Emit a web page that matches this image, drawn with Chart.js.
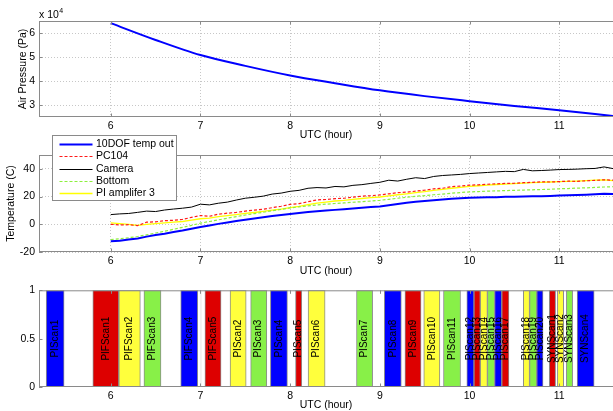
<!DOCTYPE html>
<html>
<head>
<meta charset="utf-8">
<script src="https://cdn.jsdelivr.net/npm/chart.js@4.4.0/dist/chart.umd.min.js"></script>
<style>
  html, body { margin: 0; padding: 0; background: #fff; }
  #wrap { position: relative; width: 613px; height: 411px; overflow: hidden; }
  canvas { position: absolute; left: 0; }
</style>
</head>
<body>
<div id="wrap">
  <canvas id="pressureChart" width="613" height="145" style="top:0px"></canvas>
  <canvas id="tempChart" width="613" height="150" style="top:130px"></canvas>
  <canvas id="scanChart" width="613" height="131" style="top:280px"></canvas>
</div>
<script>
// ---- data ----
const xTicks = [6, 7, 8, 9, 10, 11];

const pressureHours = [6.0, 6.5, 7.0, 7.5, 8.0, 8.5, 9.0, 9.5, 10.0, 10.5, 11.0, 11.6];
const airPressure = [64100, 57100, 50800, 46300, 42300, 39100, 36100, 33700, 31600, 29600, 27800, 25400];
const pressureTicks = [30000, 40000, 50000, 60000];

const hours = [
  6.0, 6.1, 6.2, 6.3, 6.4, 6.5, 6.6, 6.7, 6.8, 6.9,
  7.0, 7.1, 7.2, 7.3, 7.4, 7.5, 7.6, 7.7, 7.8, 7.9,
  8.0, 8.1, 8.2, 8.3, 8.4, 8.5, 8.6, 8.7, 8.8, 8.9,
  9.0, 9.1, 9.2, 9.3, 9.4, 9.5, 9.6, 9.7, 9.8, 9.9,
  10.0, 10.1, 10.2, 10.3, 10.4, 10.5, 10.6, 10.7, 10.8, 10.9,
  11.0, 11.1, 11.2, 11.3, 11.4, 11.5, 11.6
];
const tempOut = [
  -12.3, -11.8, -11.0, -10.2, -8.9, -7.8, -6.8, -5.6, -4.5, -3.2,
  -2.0, -0.8, 0.3, 1.3, 2.3, 3.2, 4.1, 5.0, 5.9, 6.7,
  7.5, 8.2, 8.8, 9.4, 9.9, 10.4, 10.9, 11.4, 11.9, 12.4,
  12.9, 13.8, 14.7, 15.5, 16.2, 16.8, 17.4, 17.9, 18.4, 18.8,
  19.1, 19.3, 19.5, 19.6, 19.8, 19.9, 20.0, 20.2, 20.3, 20.5,
  20.7, 20.9, 21.1, 21.4, 21.7, 22.0, 21.8
];
const pc104 = [
  0.0, -0.5, -0.3, -1.0, 1.5, 1.8, 2.6, 2.9, 3.5, 5.0,
  6.3, 5.8, 7.3, 8.0, 8.6, 9.5, 10.2, 10.8, 12.0, 13.0,
  14.4, 14.9, 16.3, 17.6, 17.9, 18.5, 18.8, 19.6, 20.3, 20.6,
  21.2, 22.0, 22.8, 23.2, 23.9, 24.6, 25.6, 26.0, 27.2, 27.6,
  28.2, 28.5, 28.9, 29.2, 29.5, 29.6, 30.0, 30.3, 30.6, 30.5,
  30.8, 31.1, 31.0, 31.4, 31.7, 32.1, 31.8
];
const camera = [
  7.0, 7.5, 7.8, 8.6, 9.5, 9.2, 10.3, 11.0, 11.6, 12.4,
  14.5, 14.0, 15.2, 16.0, 17.5, 18.8, 19.5, 20.3, 21.8, 22.5,
  23.8, 24.5, 26.0, 26.5, 26.2, 27.3, 27.0, 28.1, 28.6, 29.5,
  30.3, 31.8, 31.2, 32.5, 33.6, 33.0, 34.5, 35.2, 35.6, 36.0,
  36.6, 37.0, 37.4, 37.8, 38.2, 38.0, 39.6, 38.6, 38.8, 39.1,
  39.5, 39.6, 39.8, 40.1, 40.3, 41.4, 40.2
];
const bottom = [
  -11.0, -10.4, -9.7, -8.8, -7.6, -6.3, -5.0, -3.6, -2.2, -0.8,
  0.8, 2.0, 3.2, 4.4, 5.5, 6.7, 7.7, 8.7, 9.8, 10.8,
  11.8, 12.6, 13.3, 14.0, 14.5, 15.0, 15.4, 15.9, 16.3, 16.8,
  17.3, 18.0, 18.8, 19.5, 20.2, 20.7, 21.3, 21.8, 22.4, 22.9,
  23.4, 23.6, 23.9, 24.1, 24.3, 24.5, 24.7, 24.9, 25.1, 25.3,
  25.6, 25.8, 26.1, 26.3, 26.6, 26.9, 27.1
];
const piAmp3 = [
  1.0, 0.5, 0.0, -0.8, 0.0, 0.5, 1.0, 1.5, 2.0, 3.0,
  4.0, 4.5, 5.5, 6.3, 7.0, 7.8, 8.5, 9.3, 10.2, 11.0,
  12.0, 13.0, 14.2, 15.3, 16.0, 16.8, 17.3, 18.0, 18.6, 19.2,
  19.7, 20.5, 21.3, 22.0, 22.8, 23.5, 24.4, 25.2, 26.0, 26.7,
  27.3, 27.8, 28.3, 28.7, 29.0, 29.3, 29.7, 30.0, 30.3, 30.5,
  30.8, 31.0, 31.2, 31.5, 31.8, 32.0, 31.5
];
const tempTicks = [-20, 0, 20, 40];

const scanNames = [
  'PIScan1', 'PIFScan1', 'PIFScan2', 'PIFScan3', 'PIFScan4', '', 'PIFScan5',
  'PIScan2', 'PIScan3', 'PIScan4', 'PIScan5', 'PIScan6', 'PIScan7', 'PIScan8',
  'PIScan9', 'PIScan10', 'PIScan11', 'PIScan12', 'PIScan13', 'PIScan14',
  'PIScan15', 'PIScan16', 'PIScan17', 'PIScan18', 'PIScan19', 'PIScan20',
  'SYNScan1', 'SYNScan2', 'SYNScan3', 'SYNScan4'
];
const scanStart = [
  5.28, 5.80, 6.09, 6.37, 6.78, 6.998, 7.05,
  7.33, 7.56, 7.78, 8.06, 8.20, 8.74, 9.05,
  9.28, 9.49, 9.71, 9.97, 10.05, 10.12,
  10.20, 10.28, 10.36, 10.60, 10.67, 10.75,
  10.89, 10.98, 11.08, 11.20
];
const scanEnd = [
  5.48, 6.09, 6.33, 6.56, 6.97, 7.006, 7.23,
  7.51, 7.74, 7.97, 8.13, 8.39, 8.92, 9.24,
  9.46, 9.67, 9.90, 10.05, 10.12, 10.20,
  10.28, 10.36, 10.44, 10.67, 10.75, 10.82,
  10.96, 11.05, 11.15, 11.39
];
const scanTicks = [0, 0.5, 1];

// ---- styles ----
const BLUE = '#0000ff', RED = '#dd0000', YEL = '#ffff3c', GRN = '#88f048';
const scanFill = [
  BLUE, RED, YEL, GRN, BLUE, '#ffffff', RED,
  YEL, GRN, BLUE, RED, YEL, GRN, BLUE,
  RED, YEL, GRN, BLUE, RED, YEL,
  GRN, BLUE, RED, YEL, GRN, BLUE,
  RED, YEL, GRN, BLUE
];
const AXIS_GRAY = '#8a8a8a';
const GRID_GRAY = 'rgba(0,0,0,0.22)';
const TICK = 3.5;
const X_MIN = 5.2, X_MAX = 11.6;
const FONT = '"Liberation Sans", Arial, Helvetica, sans-serif';

Chart.defaults.font.family = FONT;
Chart.defaults.font.size = 10.5;
Chart.defaults.color = '#000';
Chart.defaults.animation = false;

// box round the plot plus MATLAB style inner ticks
const frame = {
  id: 'frame',
  afterDraw(chart, args, opts) {
    const { ctx, chartArea: a, scales } = chart;
    const ys = scales[opts.yId || 'y'];
    ctx.save();
    ctx.strokeStyle = AXIS_GRAY;
    ctx.lineWidth = 1;
    ctx.strokeRect(a.left + 0.5, a.top + 0.5, a.right - a.left, a.bottom - a.top - 1);
    ctx.beginPath();
    scales.x.ticks.forEach(t => {
      const px = Math.round(scales.x.getPixelForValue(t.value)) + 0.5;
      ctx.moveTo(px, a.top); ctx.lineTo(px, a.top + TICK);
      ctx.moveTo(px, a.bottom); ctx.lineTo(px, a.bottom - TICK);
    });
    ys.ticks.forEach(t => {
      const py = Math.round(ys.getPixelForValue(t.value)) + 0.5;
      ctx.moveTo(a.left, py); ctx.lineTo(a.left + TICK, py);
    });
    ctx.stroke();
    ctx.restore();
  }
};

function xAxis(height, titlePad, showGrid) {
  return {
    type: 'linear', min: X_MIN, max: X_MAX, offset: false,
    afterBuildTicks: s => { s.ticks = xTicks.map(v => ({ value: v })); },
    afterFit: s => { s.height = height; },
    grid: { display: showGrid, color: GRID_GRAY, drawTicks: false, offset: false },
    border: { display: false, dash: [1, 2] },
    ticks: { padding: 3, maxRotation: 0, autoSkip: false },
    title: { display: true, text: 'UTC (hour)', padding: { top: 0, bottom: titlePad } }
  };
}

function yAxis(min, max, tickList, title, titlePad, showGrid, fmt) {
  return {
    type: 'linear', min: min, max: max, offset: false,
    afterBuildTicks: s => { s.ticks = tickList.map(v => ({ value: v })); },
    afterFit: s => { s.width = 39; },
    grid: { display: showGrid, color: GRID_GRAY, drawTicks: false, offset: false },
    border: { display: false, dash: [1, 2] },
    ticks: { padding: 4, callback: fmt || (v => v) },
    title: { display: !!title, text: title, padding: { top: titlePad, bottom: 0 } }
  };
}

// ---- top: air pressure ----
const exponentLabel = {
  id: 'exponentLabel',
  afterDraw(chart) {
    const { ctx, chartArea: a } = chart;
    ctx.save();
    ctx.fillStyle = '#000';
    ctx.textBaseline = 'alphabetic';
    ctx.font = '10.5px ' + FONT;
    ctx.fillText('x 10', a.left, 18);
    const w = ctx.measureText('x 10').width;
    ctx.font = '7px ' + FONT;
    ctx.fillText('4', a.left + w + 0.5, 13);
    ctx.restore();
  }
};

new Chart(document.getElementById('pressureChart'), {
  type: 'line',
  data: {
    datasets: [{
      label: 'Air Pressure',
      data: pressureHours.map((h, i) => ({ x: h, y: airPressure[i] })),
      borderColor: BLUE, borderWidth: 2, pointRadius: 0,
      cubicInterpolationMode: 'monotone'
    }]
  },
  options: {
    responsive: false,
    devicePixelRatio: 1,
    layout: { padding: { top: 21, left: 0, right: 0, bottom: 0 } },
    plugins: { legend: { display: false }, tooltip: { enabled: false } },
    scales: {
      x: xAxis(28, 3.2, true),
      y: yAxis(25000, 65000, pressureTicks, 'Air Pressure (Pa)', 16.5, true, v => v / 10000)
    }
  },
  plugins: [frame, exponentLabel]
});

// ---- middle: temperatures ----
const boxLegend = {
  id: 'boxLegend',
  afterDraw(chart) {
    const ctx = chart.ctx;
    const L = 52.5, T = 5.5, W = 124, H = 65;
    ctx.save();
    ctx.fillStyle = '#fff';
    ctx.fillRect(L, T, W, H);
    ctx.strokeStyle = AXIS_GRAY;
    ctx.lineWidth = 1;
    ctx.strokeRect(L, T, W, H);
    ctx.font = '10.5px ' + FONT;
    ctx.textBaseline = 'middle';
    chart.data.datasets.forEach((ds, i) => {
      const y = Math.round(T + 8.8 + i * 12.1) + 0.5;
      ctx.beginPath();
      ctx.strokeStyle = ds.borderColor;
      ctx.lineWidth = ds.borderWidth;
      ctx.setLineDash(ds.borderDash || []);
      ctx.moveTo(L + 7, y);
      ctx.lineTo(L + 40, y);
      ctx.stroke();
      ctx.setLineDash([]);
      ctx.fillStyle = '#000';
      ctx.fillText(ds.label, L + 43.5, y);
    });
    ctx.restore();
  }
};

function tempSeries(label, values, color, width, dash) {
  return {
    label: label,
    data: hours.map((h, i) => ({ x: h, y: values[i] })),
    borderColor: color, borderWidth: width, borderDash: dash,
    pointRadius: 0, tension: 0
  };
}

new Chart(document.getElementById('tempChart'), {
  type: 'line',
  data: {
    datasets: [
      tempSeries('10DOF temp out', tempOut, BLUE, 2, []),
      tempSeries('PC104', pc104, '#ff1a1a', 1.2, [3, 2]),
      tempSeries('Camera', camera, '#000000', 1, []),
      tempSeries('Bottom', bottom, '#8cf03c', 1.2, [3, 2]),
      tempSeries('PI amplifer 3', piAmp3, '#ffff00', 1.3, [])
    ]
  },
  options: {
    responsive: false,
    devicePixelRatio: 1,
    layout: { padding: { top: 25, left: 0, right: 0, bottom: 0 } },
    plugins: { legend: { display: false }, tooltip: { enabled: false } },
    scales: {
      x: xAxis(28, 3.0, true),
      y: yAxis(-20, 50, tempTicks, 'Temperature (C)', 4.7, true)
    }
  },
  plugins: [frame, boxLegend]
});

// ---- bottom: scan periods ----
const scanLabels = {
  id: 'scanLabels',
  afterDatasetsDraw(chart) {
    const meta = chart.getDatasetMeta(0);
    const ctx = chart.ctx;
    ctx.save();
    ctx.font = '10px ' + FONT;
    ctx.fillStyle = '#000';
    ctx.textAlign = 'center';
    ctx.textBaseline = 'middle';
    meta.data.forEach((bar, i) => {
      if (!scanNames[i]) return;
      ctx.save();
      ctx.translate((bar.x + bar.base) / 2, bar.y);
      ctx.rotate(-Math.PI / 2);
      ctx.fillText(scanNames[i], 0, 0);
      ctx.restore();
    });
    ctx.restore();
  }
};

new Chart(document.getElementById('scanChart'), {
  type: 'bar',
  data: {
    labels: ['scans'],
    datasets: [{
      data: scanStart.map((s, i) => ({ y: 'scans', x: [s, scanEnd[i]] })),
      backgroundColor: scanFill,
      borderColor: '#8c8c8c',
      borderWidth: 1,
      borderSkipped: false,
      barPercentage: 1,
      categoryPercentage: 1,
      grouped: false
    }]
  },
  options: {
    indexAxis: 'y',
    responsive: false,
    devicePixelRatio: 1,
    layout: { padding: { top: 10, left: 0, right: 0, bottom: 0 } },
    plugins: { legend: { display: false }, tooltip: { enabled: false }, frame: { yId: 'yl' } },
    scales: {
      x: xAxis(24, 0, false),
      y: { type: 'category', display: false },
      yl: Object.assign(yAxis(0, 1, scanTicks, '', 0, false), { position: 'left', display: true })
    }
  },
  plugins: [frame, scanLabels]
});
</script>
</body>
</html>
